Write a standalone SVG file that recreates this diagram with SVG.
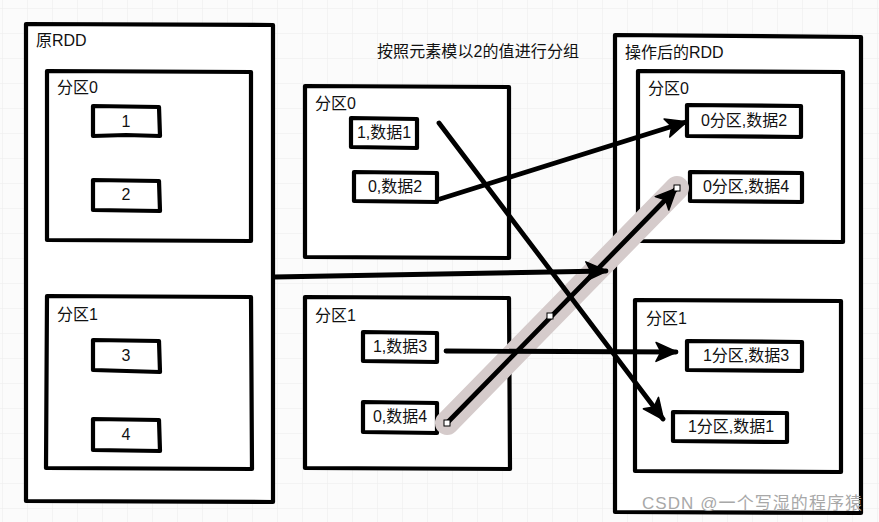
<svg xmlns="http://www.w3.org/2000/svg" width="879" height="522" viewBox="0 0 879 522">
<defs>
<pattern id="grid" x="2" y="8" width="25" height="25" patternUnits="userSpaceOnUse">
<path d="M0 0H25M0 0V25" fill="none" stroke="#ebebeb" stroke-width="1"/>
</pattern>
<marker id="ah" markerWidth="24" markerHeight="22" refX="21" refY="11" orient="auto" markerUnits="userSpaceOnUse" viewBox="0 0 24 22">
<path d="M1 1.5L22 11L1 20.5L6 11Z" fill="#000" stroke="#000" stroke-width="1.5" stroke-linejoin="round"/>
</marker>
<style>
.box{fill:#fff;stroke:#000;stroke-width:4.2;stroke-linejoin:round}
.t{font-family:"Liberation Sans","Noto Sans CJK SC",sans-serif;font-size:16px;fill:#111}
.c{text-anchor:middle}
.conn{fill:none;stroke:#000;stroke-width:4.8;stroke-linecap:round;marker-end:url(#ah)}
</style>
</defs>
<rect width="879" height="522" fill="#fbfbfb"/>
<rect width="879" height="522" fill="url(#grid)"/>

<g id="orig-rdd">
<path class="box" d="M26 24L273 25L273 502L26 501Z"/>
<text class="t" x="36" y="46">原RDD</text>
</g>
<g id="orig-p0">
<path class="box" d="M47 71L251 72L251 241L47 240Z"/>
<text class="t" x="57" y="93">分区0</text>
</g>
<g id="orig-1"><path class="box" d="M93 106L159 107L160 136L126 135L93 136Z"/><text class="t c" x="126" y="127">1</text></g>
<g id="orig-2"><path class="box" d="M93 180L159 181L160 211L93 210Z"/><text class="t c" x="126" y="200">2</text></g>
<g id="orig-p1">
<path class="box" d="M47 296L251 297L252 469L46 468Z"/>
<text class="t" x="57" y="320">分区1</text>
</g>
<g id="orig-3"><path class="box" d="M93 340L159 341L160 372L93 370Z"/><text class="t c" x="126" y="361">3</text></g>
<g id="orig-4"><path class="box" d="M93 419L159 420L160 451L93 450Z"/><text class="t c" x="126" y="440">4</text></g>

<g id="title"><text class="t" x="377" y="57" textLength="202">按照元素模以2的值进行分组</text></g>

<g id="mid-p0">
<path class="box" d="M305 86L509 87L509 258L305 257Z"/>
<text class="t" x="315" y="109">分区0</text>
</g>
<g id="mid-d1"><path class="box" d="M351 118L417 119L417 148L351 147Z"/><text class="t c" x="384" y="138">1,数据1</text></g>
<g id="mid-d2"><path class="box" d="M354 172L437 173L437 202L354 201Z"/><text class="t c" x="395" y="192">0,数据2</text></g>
<g id="mid-p1">
<path class="box" d="M305 297L509 298L510 469L305 468Z"/>
<text class="t" x="315" y="321">分区1</text>
</g>
<g id="mid-d3"><path class="box" d="M363 332L437 333L437 362L363 361Z"/><text class="t c" x="400" y="352">1,数据3</text></g>
<g id="mid-d4"><path class="box" d="M363 402L437 403L437 433L363 432Z"/><text class="t c" x="400" y="422">0,数据4</text></g>

<g id="new-rdd">
<path class="box" d="M615 35L861 37L861 513L615 512Z"/>
<text class="t" x="625" y="58">操作后的RDD</text>
</g>
<g id="new-p0">
<path class="box" d="M638 71L843 72L843 242L638 241Z"/>
<text class="t" x="648" y="94">分区0</text>
</g>
<g id="new-d2"><path class="box" d="M687 105L801 106L801 137L687 136Z"/><text class="t c" x="744" y="126">0分区,数据2</text></g>
<g id="new-d4"><path class="box" d="M690 172L802 173L802 202L690 201Z"/><text class="t c" x="746" y="192">0分区,数据4</text></g>
<g id="new-p1">
<path class="box" d="M635 300L841 301L841 472L635 471Z"/>
<text class="t" x="646" y="324">分区1</text>
</g>
<g id="new-d3"><path class="box" d="M687 341L802 342L802 371L687 370Z"/><text class="t c" x="746" y="361">1分区,数据3</text></g>
<g id="new-d1"><path class="box" d="M673 412L787 413L787 442L673 441Z"/><text class="t c" x="731" y="432">1分区,数据1</text></g>

<g id="connectors">
<path d="M447 423L677 188" fill="none" stroke="#d5cbcb" stroke-width="24" stroke-linecap="round"/>
<path class="conn" d="M274 277L606 271"/>
<path class="conn" d="M440 199L686 122"/>
<path class="conn" d="M439 123L663 419"/>
<path class="conn" d="M446 351L676 352"/>
<path class="conn" d="M447 423L676 189"/>
<rect x="444" y="420" width="6" height="6" fill="#fff" stroke="#000" stroke-width="1"/>
<rect x="547" y="313" width="6" height="6" fill="#fff" stroke="#000" stroke-width="1"/>
<rect x="674" y="185" width="6" height="6" fill="#fff" stroke="#000" stroke-width="1"/>
</g>

<g id="watermark"><text x="642" y="509" textLength="220" style="font-family:'Liberation Sans','Noto Sans CJK SC',sans-serif;font-size:17px;fill:#a8a8a8">CSDN @一个写湿的程序猿</text></g>
</svg>
